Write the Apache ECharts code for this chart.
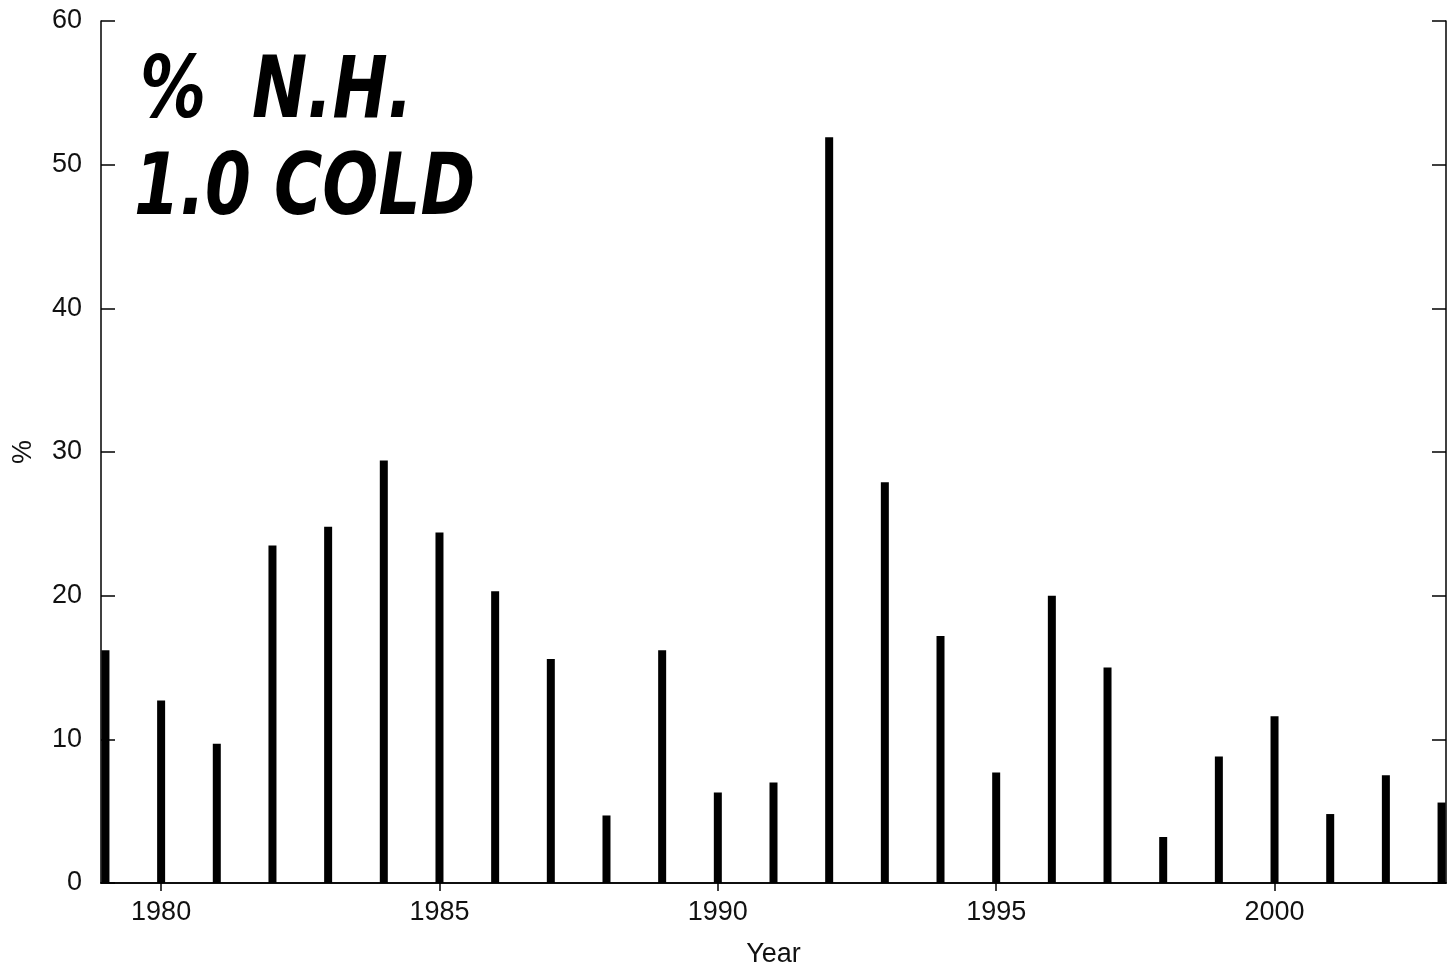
<!DOCTYPE html>
<html>
<head>
<meta charset="utf-8">
<script src="https://cdn.jsdelivr.net/npm/echarts@6/dist/echarts.min.js"></script>
<style>html,body{margin:0;padding:0;background:#fff;}#c{width:1452px;height:970px;}</style>
</head>
<body>
<div id="c"></div>
<script>
const years = [1979,1980,1981,1982,1983,1984,1985,1986,1987,1988,1989,1990,1991,1992,1993,1994,1995,1996,1997,1998,1999,2000,2001,2002,2003];
const values = [16.2,12.7,9.7,23.5,24.8,29.4,24.4,20.3,15.6,4.7,16.2,6.3,7.0,51.9,27.9,17.2,7.7,20.0,15.0,3.2,8.8,11.6,4.8,7.5,5.6];
const xTickValues = [1980,1985,1990,1995,2000];
const noteLines = ['%  N.H.', '1.0 COLD'];

const chart = echarts.init(document.getElementById('c'));
const font = 'Liberation Sans, Arial, Helvetica, sans-serif';
const axisLine = {show:true, lineStyle:{color:'#000', width:1.5}};
const noteFont = 'italic bold 66px "DejaVu Sans", sans-serif';
chart.setOption({
  backgroundColor:'#fff',
  animation:false,
  grid:{left:101, right:6, top:21, bottom:87, containLabel:false, outerBoundsMode:'none'},
  xAxis:[{
    type:'value', min:1978.92, max:2003.08, position:'bottom',
    name:'Year', nameLocation:'middle', nameGap:58,
    nameTextStyle:{fontFamily:font, fontSize:27, color:'#111'},
    axisLine:axisLine,
    axisTick:{show:true, inside:true, length:8, customValues:xTickValues, lineStyle:{color:'#000', width:1.5}},
    axisLabel:{show:true, customValues:xTickValues, formatter:v=>String(v), margin:16, fontFamily:font, fontSize:27, color:'#111'},
    splitLine:{show:false}
  },{
    type:'value', min:1978.92, max:2003.08, position:'top',
    axisLine:axisLine,
    axisTick:{show:true, inside:true, length:8, customValues:xTickValues, lineStyle:{color:'#000', width:1.5}},
    axisLabel:{show:false},
    splitLine:{show:false}
  }],
  yAxis:[{
    type:'value', min:0, max:60, interval:10, position:'left',
    name:'%', nameLocation:'middle', nameGap:64, nameRotate:90,
    nameTextStyle:{fontFamily:font, fontSize:27, color:'#111'},
    axisLine:axisLine,
    axisTick:{show:true, inside:true, length:14, lineStyle:{color:'#000', width:1.5}},
    axisLabel:{show:true, margin:19, fontFamily:font, fontSize:27, color:'#111'},
    splitLine:{show:false}
  },{
    type:'value', min:0, max:60, interval:10, position:'right',
    axisLine:axisLine,
    axisTick:{show:true, inside:true, length:14, lineStyle:{color:'#000', width:1.5}},
    axisLabel:{show:false},
    splitLine:{show:false}
  }],
  series:[{
    type:'bar', xAxisIndex:0, yAxisIndex:0,
    data: years.map((y,i)=>[y, values[i]]),
    barWidth:8,
    itemStyle:{color:'#000'},
    clip:true
  }],
  graphic:[
    {type:'text', x:140, y:52, scaleY:1.3, style:{x:0, y:0, text:noteLines[0], font:noteFont, fill:'#000', verticalAlign:'top'}},
    {type:'text', x:134, y:149, scaleY:1.3, style:{x:0, y:0, text:noteLines[1], font:noteFont, fill:'#000', verticalAlign:'top'}}
  ]
});
</script>
</body>
</html>
